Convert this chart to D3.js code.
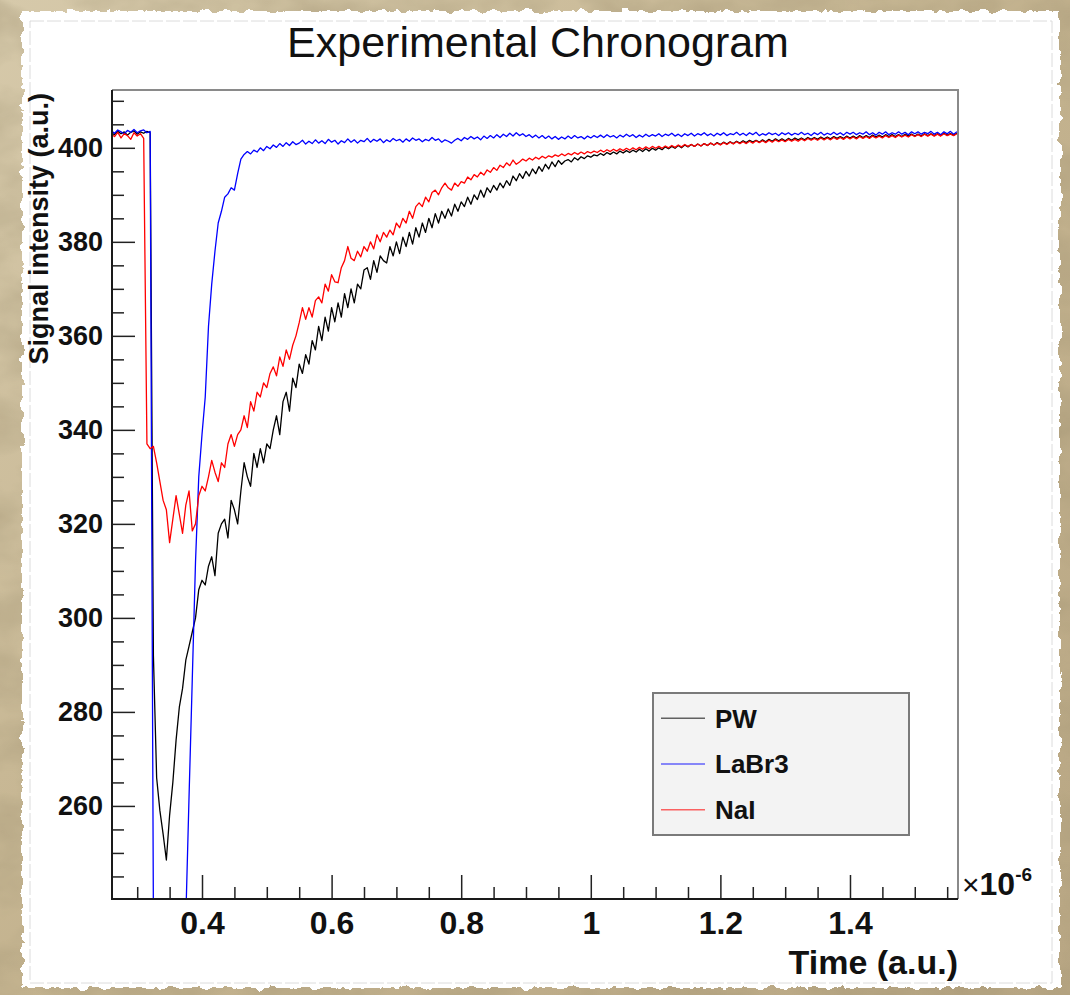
<!DOCTYPE html>
<html>
<head>
<meta charset="utf-8">
<script src="https://cdn.jsdelivr.net/npm/d3@7"></script>
<style>
  body { margin: 0; background: #c7b794; }
  svg { display: block; }
  text { font-family: "Liberation Sans", Arial, Helvetica, sans-serif; }
</style>
</head>
<body>
<div id="chart"></div>
<script>
// chronogram: three detector signals sampled every 0.005 (x 10^-6)
const tStart = 0.26;
const tStep = 0.005;

const seriesNames = ["PW", "LaBr3", "NaI"];
const seriesColors = ["#000000", "#0000ff", "#ff0000"];

const pw = [
  403.2, 402.8, 403.5, 403.0, 403.4, 402.7, 403.3, 403.6, 402.9, 403.4,
  403.1, 403.5, 403.2, 292, 266, 259, 254, 248.5, 258, 265,
  274, 281, 285, 291, 294, 297, 300, 306, 308, 307,
  311, 313, 309, 318, 320, 321, 317, 325, 323, 320,
  327, 333, 330, 328, 335, 332, 336, 333, 337, 336,
  340, 343, 339, 346, 348, 344, 351, 349, 354, 352,
  356, 354, 359, 357, 362, 359, 364, 361, 366, 363,
  367, 364, 369, 366, 370, 367, 371, 370, 374, 374.5,
  372, 376, 373.5, 377, 376, 375.5, 379, 377, 380, 377.5,
  381, 379, 382, 379.5, 383, 381, 384, 382, 385, 383,
  386, 384, 386.5, 385, 387, 385.5, 388, 386.5, 388.5, 387.5,
  389.5, 388, 390, 389, 391, 389.5, 391.5, 390.5, 392, 391,
  392.5, 391.5, 393, 392, 394, 393, 394.5, 393.5, 395, 394,
  395.5, 394.5, 396, 395, 396.5, 395.5, 397, 396, 397.3, 396.5,
  397.2, 397.5, 397.0, 397.9, 397.4, 398.1, 397.7, 398.3, 398.0, 398.5,
  398.3, 398.8, 398.4, 399.0, 398.6, 399.1, 398.7, 399.3, 398.9, 399.4,
  399.0, 399.5, 399.1, 399.7, 399.2, 399.8, 399.3, 399.9, 399.5, 400.0,
  399.6, 400.2, 399.8, 400.3, 399.9, 400.5, 400.0, 400.6, 400.2, 400.7,
  400.3, 400.8, 400.4, 400.9, 400.5, 401.0, 400.6, 401.1, 400.7, 401.2,
  400.8, 401.3, 400.9, 401.4, 401.0, 401.5, 401.1, 401.6, 401.2, 401.6,
  401.2, 401.7, 401.3, 401.8, 401.4, 401.9, 401.5, 401.9, 401.5, 402.0,
  401.6, 402.1, 401.7, 402.1, 401.7, 402.2, 401.8, 402.2, 401.8, 402.3,
  401.9, 402.3, 401.9, 402.4, 402.0, 402.4, 402.0, 402.5, 402.1, 402.5,
  402.1, 402.6, 402.2, 402.6, 402.2, 402.7, 402.3, 402.7, 402.3, 402.8,
  402.4, 402.8, 402.4, 402.8, 402.4, 402.9, 402.5, 402.9, 402.5, 402.9,
  402.5, 403.0, 402.6, 403.0, 402.6, 403.0, 402.6, 403.1, 402.7, 403.0,
  402.7, 403.1
];

const labr3 = [
  403.6, 403.1, 403.8, 403.4, 403.0, 403.7, 403.3, 403.9, 403.2, 403.6,
  403.8, 403.2, 403.5, 236, 236, 236, 236, 236, 236, 236,
  236, 236, 236, 236, 262, 287, 312, 330, 339, 347,
  362, 371, 378, 384, 386.5, 389.5, 390.2, 391.5, 391, 394.5,
  397.6, 398.6, 399.2, 398.7, 399.5, 399.1, 400.0, 399.4, 400.3, 399.8,
  400.6, 400.1, 400.9, 400.3, 401.1, 400.5, 401.3, 400.7, 401.0, 401.6,
  400.8, 401.4, 400.9, 401.7, 401.0, 401.5, 400.9, 401.8, 401.2, 401.6,
  400.8, 401.5, 401.1, 401.9, 401.2, 401.7, 401.0, 401.6, 401.3, 402.0,
  401.2, 401.8, 401.4, 401.9, 401.1, 401.7, 401.3, 402.0, 401.5, 401.8,
  401.2, 401.9, 401.4, 402.1, 401.6, 401.9, 401.3, 401.8, 401.5, 402.2,
  401.6, 401.9, 401.2, 401.7, 401.4, 401.0, 401.6, 402.0, 401.5, 402.2,
  401.8, 402.4, 401.9, 402.3, 401.7, 402.5, 402.0, 402.6, 402.1, 402.8,
  402.2, 402.9, 402.4, 403.1, 402.5, 403.2, 402.6, 403.0, 402.4, 402.8,
  402.2, 402.7, 402.1, 402.6, 402.0, 402.5, 401.9, 402.4, 401.8, 402.3,
  401.9, 402.5, 402.0, 402.6, 402.1, 402.4, 401.9, 402.5, 402.1, 402.6,
  402.2, 402.7, 402.2, 402.8, 402.3, 402.6, 402.1, 402.7, 402.3, 402.9,
  402.4, 402.8, 402.2, 402.7, 402.3, 402.9, 402.4, 402.8, 402.5, 403.0,
  402.4, 402.9, 402.6, 403.1, 402.5, 402.9, 402.4, 403.0, 402.6, 403.1,
  402.5, 403.0, 402.7, 403.2, 402.6, 403.0, 402.5, 403.1, 402.7, 403.2,
  402.6, 403.0, 402.8, 403.3, 402.7, 403.1, 402.6, 403.2, 402.8, 403.3,
  402.6, 403.0, 402.7, 403.2, 402.8, 403.1, 402.6, 403.2, 402.8, 403.2,
  402.7, 403.1, 402.8, 403.3, 402.8, 403.1, 402.6, 403.2, 402.8, 403.3,
  402.7, 403.1, 402.8, 403.3, 402.8, 403.2, 402.7, 403.3, 402.9, 403.3,
  402.8, 403.2, 402.9, 403.4, 402.8, 403.2, 402.7, 403.3, 402.9, 403.4,
  402.8, 403.2, 402.9, 403.4, 402.9, 403.3, 402.8, 403.4, 403.0, 403.4,
  402.9, 403.3, 403.0, 403.5, 402.9, 403.3, 402.8, 403.4, 403.0, 403.5,
  402.9, 403.4
];

const nai = [
  402.9, 402.4, 403.3, 402.1, 403.0, 402.6, 401.8, 403.2, 402.5, 403.0,
  402.0, 337, 336, 336.5, 333, 329, 325, 323, 316, 321,
  326, 322, 318, 324, 327, 318.5, 320, 326, 328, 327,
  330, 333.5, 331, 329, 333, 332, 337, 339, 336.5, 339,
  340, 343, 340.5, 346, 344, 348, 347, 350, 349, 352,
  353.4, 351.5, 355.5, 353.5, 357, 355, 358, 360, 362.8, 366,
  363.5, 366, 364, 367.5, 368.3, 367, 371, 369.5, 373, 371.5,
  371.3, 374.5, 376, 379, 376.5, 376, 378, 376.8, 379, 378,
  380, 378.5, 381.5, 380, 382, 381, 382.5, 381.5, 384, 383,
  385, 384, 386.5, 385, 387.5, 388.3, 387.5, 389.5, 388.5, 390.5,
  391, 390, 391.5, 392.5, 391.5, 391, 392.5, 391.8, 392.8, 392.5,
  393.8, 393.2, 394.3, 393.8, 394.8, 394.2, 395.3, 394.8, 395.8, 395.2,
  396.3, 395.8, 396.8, 396.2, 397.4, 396.5, 397.0, 397.6, 397.2, 397.8,
  397.4, 398.0, 397.6, 398.2, 397.8, 398.3, 398.0, 398.5, 398.2, 398.7,
  398.3, 398.8, 398.5, 399.0, 398.6, 399.1, 398.7, 399.2, 398.9, 399.3,
  399.0, 399.5, 399.1, 399.6, 399.2, 399.7, 399.3, 399.8, 399.4, 399.9,
  399.5, 400.0, 399.6, 400.1, 399.7, 400.2, 399.8, 400.3, 399.9, 400.3,
  399.9, 400.4, 400.0, 400.5, 400.1, 400.6, 400.2, 400.7, 400.3, 400.7,
  400.3, 400.8, 400.4, 400.9, 400.5, 401.0, 400.6, 401.0, 400.6, 401.1,
  400.7, 401.2, 400.8, 401.3, 400.9, 401.3, 400.9, 401.4, 401.0, 401.5,
  401.1, 401.5, 401.1, 401.6, 401.2, 401.7, 401.3, 401.7, 401.3, 401.8,
  401.4, 401.8, 401.4, 401.9, 401.5, 402.0, 401.6, 402.0, 401.6, 402.1,
  401.7, 402.1, 401.7, 402.2, 401.8, 402.2, 401.8, 402.3, 401.9, 402.3,
  401.9, 402.4, 402.0, 402.4, 402.0, 402.5, 402.1, 402.5, 402.1, 402.6,
  402.2, 402.6, 402.2, 402.7, 402.3, 402.7, 402.3, 402.8, 402.4, 402.8,
  402.4, 402.9, 402.5, 402.9, 402.5, 402.9, 402.5, 403.0, 402.6, 402.9,
  402.6, 403.0
];

const xMajorTicks = [0.4, 0.6, 0.8, 1, 1.2, 1.4];
const xMinorTicks = [0.3, 0.35, 0.45, 0.5, 0.55, 0.65, 0.7, 0.75, 0.85, 0.9, 0.95,
  1.05, 1.1, 1.15, 1.25, 1.3, 1.35, 1.45, 1.5, 1.55];
const yMajorTicks = [260, 280, 300, 320, 340, 360, 380, 400];
const yMinorTicks = [245, 250, 255, 265, 270, 275, 285, 290, 295, 305, 310, 315,
  325, 330, 335, 345, 350, 355, 365, 370, 375, 385, 390, 395, 405, 410];

const W = 1070, H = 995;
const frame = { left: 112, right: 958, top: 90, bottom: 899 };

const svg = d3.select("#chart").append("svg")
  .attr("width", W)
  .attr("height", H);

const defs = svg.append("defs");

// stone-ish backdrop
const grain = defs.append("filter").attr("id", "grain")
  .attr("x", 0).attr("y", 0).attr("width", "100%").attr("height", "100%");
grain.append("feTurbulence").attr("type", "fractalNoise")
  .attr("baseFrequency", "0.012 0.02").attr("numOctaves", 4).attr("seed", 7);
grain.append("feColorMatrix").attr("type", "matrix")
  .attr("values", "0 0 0 0 0.35  0 0 0 0 0.29  0 0 0 0 0.17  0 0 0 -1.6 1.05");

// torn paper edge
const torn = defs.append("filter").attr("id", "torn")
  .attr("x", "-2%").attr("y", "-2%").attr("width", "104%").attr("height", "104%");
torn.append("feTurbulence").attr("type", "fractalNoise")
  .attr("baseFrequency", "0.09").attr("numOctaves", 3).attr("seed", 2).attr("result", "n");
torn.append("feDisplacementMap").attr("in", "SourceGraphic").attr("in2", "n")
  .attr("scale", 9).attr("xChannelSelector", "R").attr("yChannelSelector", "G");

const bgGrad = defs.append("linearGradient").attr("id", "bgGrad")
  .attr("x1", 0).attr("y1", 0).attr("x2", 1).attr("y2", 1);
bgGrad.append("stop").attr("offset", "0%").attr("stop-color", "#d6c9aa");
bgGrad.append("stop").attr("offset", "50%").attr("stop-color", "#c4b38f");
bgGrad.append("stop").attr("offset", "100%").attr("stop-color", "#b8a683");

svg.append("rect").attr("width", W).attr("height", H).attr("fill", "url(#bgGrad)");
svg.append("rect").attr("width", W).attr("height", H)
  .attr("filter", "url(#grain)").attr("opacity", 0.55);

svg.append("rect")
  .attr("x", 22).attr("y", 11).attr("width", 1038).attr("height", 977)
  .attr("fill", "#ffffff")
  .attr("filter", "url(#torn)");

svg.append("rect")
  .attr("x", 30).attr("y", 21).attr("width", 1022).attr("height", 962)
  .attr("fill", "none").attr("stroke", "#dcdcdc").attr("stroke-width", 1)
  .attr("stroke-dasharray", "14 3");

const x = d3.scaleLinear().domain([0.2611, 1.5667]).range([frame.left, frame.right]);
const y = d3.scaleLinear().domain([240.2, 412.3]).range([frame.bottom, frame.top]);

const time = pw.map((_, i) => tStart + i * tStep);

defs.append("clipPath").attr("id", "plotClip")
  .append("rect")
  .attr("x", frame.left).attr("y", frame.top)
  .attr("width", frame.right - frame.left).attr("height", frame.bottom - frame.top);

// Curves
const line = d3.line()
  .x((d, i) => x(time[i]))
  .y(d => y(d));

const curves = svg.append("g").attr("clip-path", "url(#plotClip)");
[pw, labr3, nai].forEach((vals, k) => {
  curves.append("path")
    .datum(vals)
    .attr("d", line)
    .attr("fill", "none")
    .attr("stroke", seriesColors[k])
    .attr("stroke-width", 1.3)
    .attr("stroke-linejoin", "round");
});

// Frame
svg.append("path")
  .attr("d", `M${frame.left},${frame.top}H${frame.right}V${frame.bottom}`)
  .attr("fill", "none").attr("stroke", "#8a8a8a").attr("stroke-width", 2);

// Axes (ROOT style: ticks pointing into the pad)
const yAxis = svg.append("g")
  .attr("transform", `translate(${frame.left},0)`)
  .call(d3.axisLeft(y).tickValues(yMajorTicks).tickSize(-23).tickPadding(9))
  .call(g => g.select(".domain").remove());
yAxis.selectAll("line").attr("stroke", "#222").attr("stroke-width", 1.5);
yAxis.selectAll("text")
  .attr("fill", "#111")
  .style("font-size", "27px")
  .style("font-weight", "bold");

svg.append("g")
  .attr("transform", `translate(${frame.left},0)`)
  .call(d3.axisLeft(y).tickValues(yMinorTicks).tickSize(-12).tickFormat(""))
  .call(g => g.select(".domain").remove())
  .selectAll("line").attr("stroke", "#222").attr("stroke-width", 1.5);

const xAxis = svg.append("g")
  .attr("transform", `translate(0,${frame.bottom})`)
  .call(d3.axisBottom(x).tickValues(xMajorTicks).tickSize(-24).tickPadding(12)
    .tickFormat(d => d === 1 ? "1" : d3.format(".1f")(d)))
  .call(g => g.select(".domain").remove());
xAxis.selectAll("line").attr("stroke", "#222").attr("stroke-width", 1.5);
xAxis.selectAll("text")
  .attr("fill", "#111")
  .style("font-size", "32px")
  .style("font-weight", "bold");

svg.append("g")
  .attr("transform", `translate(0,${frame.bottom})`)
  .call(d3.axisBottom(x).tickValues(xMinorTicks).tickSize(-12).tickFormat(""))
  .call(g => g.select(".domain").remove())
  .selectAll("line").attr("stroke", "#222").attr("stroke-width", 1.5);

svg.append("path")
  .attr("d", `M${frame.left},${frame.top}V${frame.bottom}H${frame.right}`)
  .attr("fill", "none").attr("stroke", "#1a1a1a").attr("stroke-width", 2);

// Titles
svg.append("text")
  .attr("x", 538).attr("y", 57)
  .attr("text-anchor", "middle")
  .style("font-size", "43px")
  .attr("fill", "#111")
  .text("Experimental Chronogram");

svg.append("text")
  .attr("transform", "translate(48,93) rotate(-90)")
  .attr("text-anchor", "end")
  .style("font-size", "27px")
  .style("font-weight", "bold")
  .attr("fill", "#111")
  .text("Signal intensity (a.u.)");

svg.append("text")
  .attr("x", frame.right).attr("y", 974)
  .attr("text-anchor", "end")
  .style("font-size", "34px")
  .style("font-weight", "bold")
  .attr("fill", "#111")
  .text("Time (a.u.)");

const expo = svg.append("text")
  .attr("x", 962).attr("y", 895)
  .attr("fill", "#111");
expo.append("tspan").style("font-size", "30px").text("\u00d7");
expo.append("tspan").style("font-size", "32px").style("font-weight", "bold").text("10");
expo.append("tspan").attr("dy", -14).style("font-size", "19px").style("font-weight", "bold").text("-6");

// Legend
const legend = svg.append("g");
legend.append("rect")
  .attr("x", 653).attr("y", 693).attr("width", 256).attr("height", 142)
  .attr("fill", "#f3f3f3").attr("stroke", "#7a7a7a").attr("stroke-width", 2);

const legendRow = d3.scaleBand().domain(seriesNames).range([693, 835]).paddingOuter(0.05);
seriesNames.forEach((name, k) => {
  const cy = legendRow(name) + legendRow.bandwidth() / 2;
  legend.append("line")
    .attr("x1", 661).attr("x2", 705).attr("y1", cy).attr("y2", cy)
    .attr("stroke", seriesColors[k]).attr("stroke-opacity", 0.6).attr("stroke-width", 1.5);
  legend.append("text")
    .attr("x", 715).attr("y", cy).attr("dy", "0.36em")
    .style("font-size", "26px").style("font-weight", "bold")
    .attr("fill", "#111")
    .text(name);
});
</script>
</body>
</html>
